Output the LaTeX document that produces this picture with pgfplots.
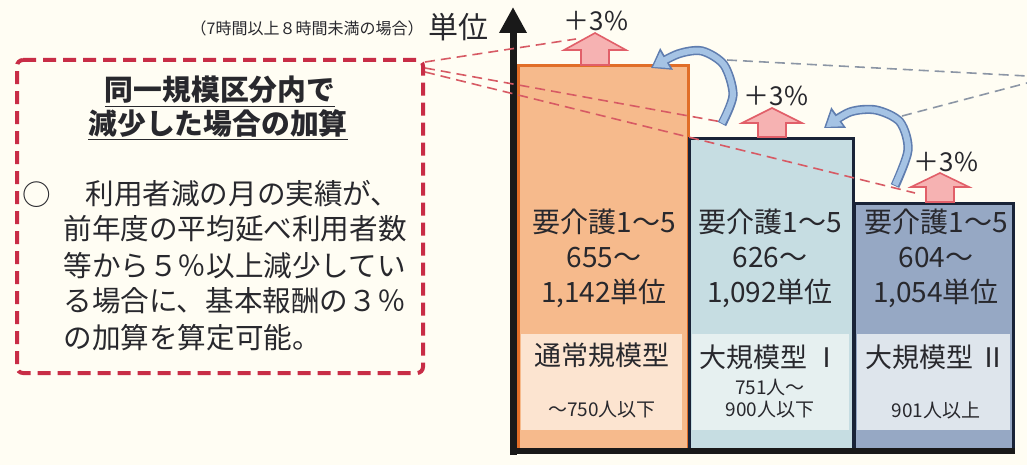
\documentclass[border=0pt]{standalone}
\usepackage{pgfplots}
\pgfplotsset{compat=1.18}
\usetikzlibrary{arrows.meta}
\usepackage{fontspec}
\setmainfont{Noto Sans CJK JP}

\definecolor{bg}{RGB}{255,253,243}
\definecolor{txt}{RGB}{40,40,45}
\definecolor{boxred}{RGB}{200,45,70}
\definecolor{dashred}{RGB}{215,90,100}
\definecolor{dashgray}{RGB}{140,150,165}
\definecolor{orfill}{RGB}{246,186,140}
\definecolor{orinner}{RGB}{252,228,208}
\definecolor{orline}{RGB}{225,110,40}
\definecolor{bluefill}{RGB}{198,221,226}
\definecolor{blueinner}{RGB}{230,240,240}
\definecolor{navyfill}{RGB}{150,168,196}
\definecolor{navyinner}{RGB}{222,229,236}
\definecolor{navyline}{RGB}{25,35,55}
\definecolor{pinkfill}{RGB}{246,178,178}
\definecolor{pinkline}{RGB}{225,95,105}
\definecolor{arrblue}{RGB}{165,195,228}
\definecolor{arrblueline}{RGB}{95,125,175}

\begin{document}
\begin{tikzpicture}
\begin{axis}[
  width=513.5pt, height=232.5pt, scale only axis,
  xmin=0, xmax=1027, ymin=0, ymax=465, y dir=reverse,
  axis lines=none, clip=false,
]
% background
\addplot[fill=bg, draw=none] coordinates {(0,0) (1027,0) (1027,465) (0,465)} -- cycle;

% bars
\addplot[fill=orfill, draw=orline, line width=1.5pt] coordinates {(518,451) (518,66) (688,66) (688,451)} -- cycle;
\addplot[fill=bluefill, draw=navyline, line width=1.5pt] coordinates {(689,451) (689,138) (853,138) (853,451)} -- cycle;
\addplot[fill=navyfill, draw=navyline, line width=1.5pt] coordinates {(854,451) (854,203) (1013,203) (1013,451)} -- cycle;

% lighter label panels
\addplot[fill=orinner, draw=none] coordinates {(521,334) (682,334) (682,430) (521,430)} -- cycle;
\addplot[fill=blueinner, draw=none] coordinates {(692,334) (849,334) (849,430) (692,430)} -- cycle;
\addplot[fill=navyinner, draw=none] coordinates {(857,334) (1010,334) (1010,430) (857,430)} -- cycle;

% base line and vertical axis arrow
\addplot[draw=black!90, line width=3pt] coordinates {(510,451) (1015,451)};
\addplot[draw=black!90, line width=3.5pt, -{Triangle[width=13pt,length=13pt]}] coordinates {(513,455) (513,7)};

% red dashed box
\addplot[draw=boxred, line width=2pt, dash pattern=on 6.5pt off 3.5pt, rounded corners=3pt] coordinates {(17,60) (423,60) (423,373) (17,373)} -- cycle;

% dashed guide lines
\addplot[draw=dashred, line width=0.8pt, dash pattern=on 5pt off 3pt] coordinates {(425,62) (576,39)};
\addplot[draw=dashred, line width=0.8pt, dash pattern=on 5pt off 3pt] coordinates {(425,68) (722,122)};
\addplot[draw=dashred, line width=0.8pt, dash pattern=on 5pt off 3pt] coordinates {(425,72) (915,193)};
\addplot[draw=dashgray, line width=0.8pt, dash pattern=on 5pt off 3pt] coordinates {(727,60) (1027,76)};
\addplot[draw=dashgray, line width=0.8pt, dash pattern=on 5pt off 3pt] coordinates {(902,116) (1027,83)};

% +3% arrows
\addplot[fill=pinkfill, draw=pinkline, line width=0.8pt] coordinates {(581,65) (581,50) (564,50) (595,33) (626,50) (609,50) (609,65)} -- cycle;
\addplot[fill=pinkfill, draw=pinkline, line width=0.8pt] coordinates {(758,137) (758,123) (742,123) (772,108) (802,123) (786,123) (786,137)} -- cycle;
\addplot[fill=pinkfill, draw=pinkline, line width=0.8pt] coordinates {(926,202) (926,187) (911,187) (940,173) (969,187) (954,187) (954,202)} -- cycle;

% curved blue arrows
\addplot[smooth, draw=arrblueline, line width=4.6pt, -{Triangle[width=12pt,length=9pt]}] coordinates {(722,124) (733,95) (724,65) (702,51) (678,54) (651,68)};
\addplot[smooth, draw=arrblue, line width=3pt, -{Triangle[width=9pt,length=7pt]}] coordinates {(722,123) (733,95) (724,65) (702,51) (678,54) (653,67)};
\addplot[smooth, draw=arrblueline, line width=4.6pt, -{Triangle[width=12pt,length=9pt]}] coordinates {(895,186) (908,150) (900,122) (876,110) (850,112) (824,128)};
\addplot[smooth, draw=arrblue, line width=3pt, -{Triangle[width=9pt,length=7pt]}] coordinates {(895,185) (908,150) (900,122) (876,110) (850,112) (826,127)};

% texts
\node[txt, font=\fontsize{13}{15}\selectfont] at (596,21) {＋3\%};
\node[txt, font=\fontsize{13}{15}\selectfont] at (776,96) {＋3\%};
\node[txt, font=\fontsize{13}{15}\selectfont] at (946,162) {＋3\%};

\node[txt, anchor=east, inner sep=0pt, font=\fontsize{8}{10}\selectfont] at (424,28) {（7時間以上８時間未満の場合）};
\node[txt, anchor=west, font=\fontsize{15}{18}\selectfont, inner sep=0pt] at (428,27) {単位};

\node[txt, font=\bfseries\fontsize{14.4}{16}\selectfont] at (220,92) {\underline{同一規模区分内で}};
\node[txt, font=\bfseries\fontsize{14.4}{16}\selectfont] at (218,125) {\underline{減少した場合の加算}};

\node[txt, font=\fontsize{14.3}{16}\selectfont] at (37,195) {○};
\node[txt, anchor=west, inner sep=0pt, font=\fontsize{14.3}{16}\selectfont] at (85,194) {利用者減の月の実績が、};
\node[txt, anchor=west, inner sep=0pt, font=\fontsize{14.3}{16}\selectfont] at (63,229) {前年度の平均延べ利用者数};
\node[txt, anchor=west, inner sep=0pt, font=\fontsize{14.3}{16}\selectfont] at (63,266) {等から５％以上減少してい};
\node[txt, anchor=west, inner sep=0pt, font=\fontsize{14.3}{16}\selectfont] at (63,301) {る場合に、基本報酬の３％};
\node[txt, anchor=west, inner sep=0pt, font=\fontsize{14.3}{16}\selectfont] at (63,338) {の加算を算定可能。};

\node[txt, align=center, font=\fontsize{14}{17.5}\selectfont] at (604,258) {要介護1～5\\655～\\1,142単位};
\node[txt, align=center, font=\fontsize{14}{17.5}\selectfont] at (770,258) {要介護1～5\\626～\\1,092単位};
\node[txt, align=center, font=\fontsize{14}{17.5}\selectfont] at (936,258) {要介護1～5\\604～\\1,054単位};

\node[txt, font=\fontsize{13.5}{16}\selectfont] at (602,355) {通常規模型};
\node[txt, font=\fontsize{13.5}{16}\selectfont] at (770,357) {大規模型 Ⅰ};
\node[txt, font=\fontsize{13.5}{16}\selectfont] at (936,357) {大規模型 Ⅱ};

\node[txt, font=\fontsize{9.5}{11}\selectfont] at (602,410) {～750人以下};
\node[txt, align=center, font=\fontsize{9.5}{11}\selectfont] at (770,399) {751人～\\900人以下};
\node[txt, font=\fontsize{9.5}{11}\selectfont] at (936,410) {901人以上};
\end{axis}
\pgfresetboundingbox
\useasboundingbox (current axis.south west) rectangle (current axis.north east);
\end{tikzpicture}
\end{document}
